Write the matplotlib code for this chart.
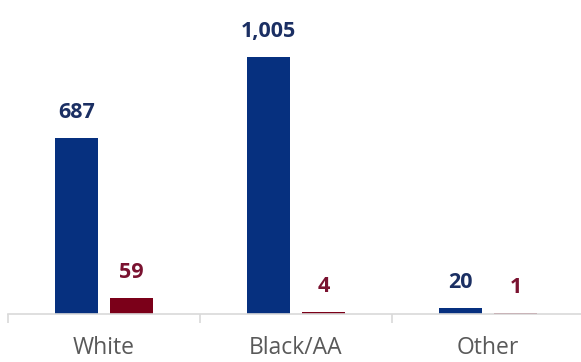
import matplotlib.pyplot as plt
import numpy as np

# data
categories = ['White', 'Black/AA', 'Other']
blue_vals = [687, 1005, 20]
red_vals = [59, 4, 1]

blue_color = '#06307F'
red_color = '#7B0019'
blue_text = '#1B2F63'
red_text = '#7A1230'

fig = plt.figure(figsize=(5.81, 3.62), dpi=100)
ax = fig.add_axes([8 / 581, (362 - 313.5) / 362, 576 / 581, 306 / 362])

x = np.arange(len(categories))
w = 0.224
off = 0.143
ax.bar(x - off, blue_vals, w, color=blue_color)
ax.bar(x + off, red_vals, w, color=red_color)

for xi, v in zip(x, blue_vals):
    ax.annotate(f'{v:,}', (xi - off, v), xytext=(0, 11), textcoords='offset points',
                ha='center', va='bottom', fontsize=15.5, fontweight='bold',
                color=blue_text, family='Open Sans')
for xi, v in zip(x, red_vals):
    ax.annotate(f'{v:,}', (xi + off, v), xytext=(0, 11), textcoords='offset points',
                ha='center', va='bottom', fontsize=15.5, fontweight='bold',
                color=red_text, family='Open Sans')

ax.set_xlim(-0.5, 2.5)
ax.set_ylim(0, 1200)
ax.set_yticks([])
for s in ['top', 'right', 'left']:
    ax.spines[s].set_visible(False)
ax.spines['bottom'].set_color('#D9D9D9')
ax.spines['bottom'].set_linewidth(1.2)

ax.set_xticks(x)
ax.set_xticklabels(categories, fontsize=16.5, color='#595959', family='Open Sans')
ax.tick_params(axis='x', which='major', length=0, pad=16)
ax.set_xticks([-0.5, 0.5, 1.5, 2.5], minor=True)
ax.tick_params(axis='x', which='minor', length=6.5, width=1.2, color='#D9D9D9')

fig.savefig('out.png', dpi=100)
